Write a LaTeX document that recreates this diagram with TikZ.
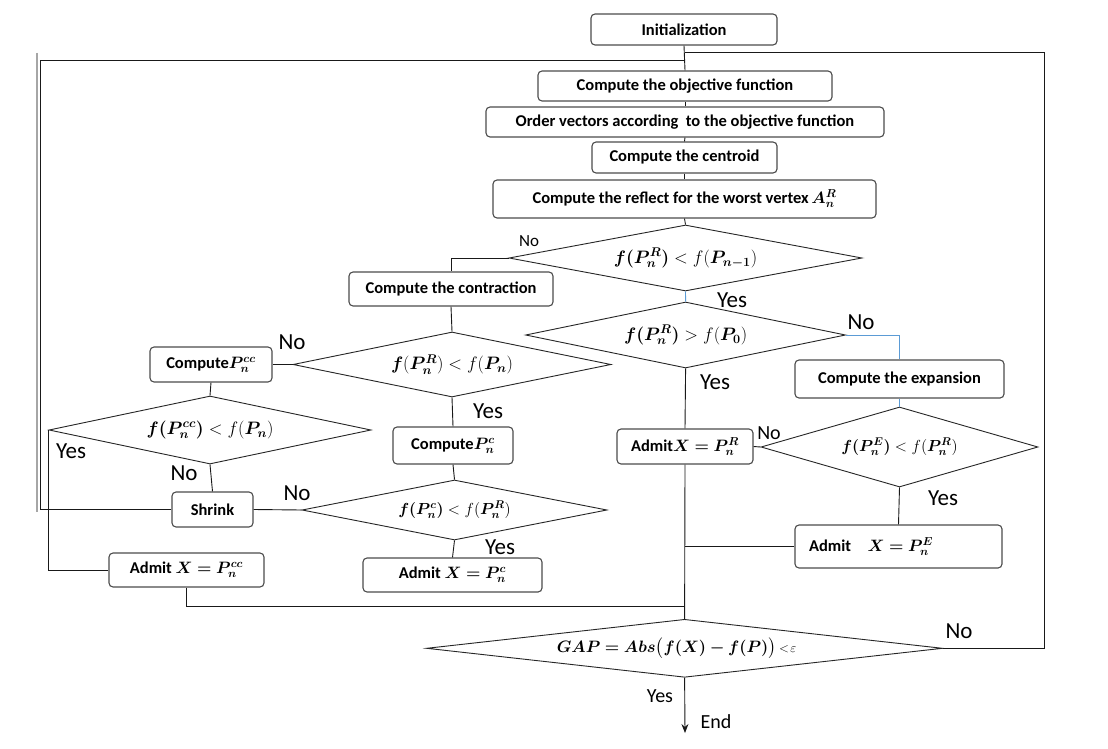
\RequirePackage{fix-cm}
\documentclass[tikz,border=0pt]{standalone}
\usepackage{amsmath}
\usepackage{bm}
\usepackage{fontspec}
\setmainfont{Carlito}
\usetikzlibrary{shapes.geometric,arrows.meta}
\definecolor{lblue}{RGB}{91,155,213}
\begin{document}
\begin{tikzpicture}[x=1pt,y=-1pt,
  box/.style={draw=black!70, line width=1.1pt, rounded corners=4pt, fill=white, inner sep=0pt, align=center, font=\fontsize{16.5}{19}\selectfont\bfseries},
  dia/.style={diamond, draw=black!85, line width=0.9pt, inner sep=0pt, aspect=5, font=\fontsize{18}{21}\selectfont},
  lbl/.style={inner sep=0pt, font=\fontsize{23}{27}\selectfont},
  lblm/.style={inner sep=0pt, font=\fontsize{20}{24}\selectfont},
  lbls/.style={inner sep=0pt, font=\fontsize{17}{20}\selectfont},
  conn/.style={draw=black!90, line width=0.9pt},
  bconn/.style={draw=lblue, line width=0.9pt}]
\fill[white] (0,0) rectangle (1108,749);
\useasboundingbox (0,0) rectangle (1108,749);

% boxes
\node[box, minimum width=186pt, minimum height=31pt] (init) at (684,29.5) {Initialization};
\node[box, minimum width=294pt, minimum height=30pt] (obj) at (685,86) {Compute the objective function};
\node[box, minimum width=398pt, minimum height=30pt] (order) at (685,122) {Order vectors according\ \ to the objective function};
\node[box, minimum width=185pt, minimum height=31pt] (cent) at (684.5,157.5) {Compute the centroid};
\node[box, minimum width=383pt, minimum height=38pt] (refl) at (684.5,199) {Compute the reflect for the worst vertex$\,\bm{A_n^R}$};
\node[box, minimum width=204pt, minimum height=34pt] (contr) at (451,289) {Compute the contraction};
\node[box, minimum width=122pt, minimum height=35pt] (pcc) at (211,364.5) {Compute$\bm{P_n^{cc}}$};
\node[box, minimum width=120pt, minimum height=37pt] (pc) at (453,445.5) {Compute$\bm{P_n^{c}}$};
\node[box, minimum width=136pt, minimum height=35pt] (admR) at (685,446.5) {Admit$\bm{X = P_n^R}$};
\node[box, minimum width=209pt, minimum height=38pt] (exp) at (899.5,379) {Compute the expansion};
\node[box, minimum width=207pt, minimum height=43pt, text width=179pt, align=left] (admE) at (898.5,546.5) {Admit\ \ \ $\bm{X = P_n^E}$};
\node[box, minimum width=155pt, minimum height=34pt] (admcc) at (186.5,570) {Admit $\bm{X = P_n^{cc}}$};
\node[box, minimum width=81pt, minimum height=35pt] (shrink) at (212.5,509.5) {Shrink};
\node[box, minimum width=179pt, minimum height=34pt] (admc) at (452.5,575) {Admit $\bm{X = P_n^{c}}$};

% diamonds
\node[dia, minimum width=353pt, minimum height=66pt] (d1) at (685.5,258) {$\bm{f(P_n^R)} < f(\bm{P_{n-1}})$};
\node[dia, minimum width=320pt, minimum height=66pt] (d2) at (685.6,335) {$\bm{f(P_n^R)} > f(\bm{P_0})$};
\node[dia, minimum width=318pt, minimum height=65pt] (d3) at (452,364.5) {$\bm{f}(\bm{P_n^R}) < f(\bm{P_n})$};
\node[dia, minimum width=277pt, minimum height=80pt, font=\fontsize{16}{19}\selectfont] (d4) at (899.5,447) {$\bm{f(P_n^E)} < f(\bm{P_n^R})$};
\node[dia, minimum width=322pt, minimum height=68pt] (d5) at (210,430) {$\bm{f(P_n^{cc})} < f(\bm{P_n})$};
\node[dia, minimum width=305pt, minimum height=60pt, font=\fontsize{16}{19}\selectfont] (d6) at (454.5,510) {$\bm{f(P_n^c)} < f(\bm{P_n^R})$};
\node[dia, aspect=9, minimum width=516pt, minimum height=58pt, font=\fontsize{16.5}{19}\selectfont] (gap) at (684.6,648.3) {$\bm{GAP = Abs\big(f(X) - f(P)\big)}$\,{\fontsize{13}{15}\selectfont$<\!\varepsilon$}\hspace*{16pt}};

% coordinates
\coordinate (j1) at (685,60);
\coordinate (lcorner) at (40,60);
\coordinate (j4) at (685,52);
\coordinate (rcorner) at (1044,52);
\coordinate (j2) at (685,546.5);
\coordinate (j3) at (685,606);
\coordinate (endpt) at (685,733);

% left gray artefact line
\draw[black!35, line width=1.6pt] (37,53) -- (37,512);

% connectors
\draw[conn] (init.south) -- (obj.north);
\draw[conn] (obj.south) -- (order.north);
\draw[conn] (order.south) -- (cent.north);
\draw[conn] (cent.south) -- (refl.north);
\draw[conn] (refl.south) -- (d1.north);
\draw[bconn] (d1.south) -- (d2.north);
\draw[conn] (d1.west) -| (contr.north);
\draw[conn] (contr.south) -- (d3.north);
\draw[conn] (d3.west) -- (pcc.east);
\draw[conn] (d3.south) -- (pc.north);
\draw[conn] (pcc.south) -- (d5.north);
\draw[conn] (d5.south) -- (shrink.north);
\draw[conn] (d5.west) |- (admcc.west);
\draw[conn] (pc.south) -- (d6.north);
\draw[conn] (d6.west) -- (shrink.east);
\draw[conn] (d6.south) -- (admc.north);
\draw[conn] (shrink.west) -| (lcorner) -- (j1);
\draw[bconn] (d2.east) -| (exp.north);
\draw[bconn] (exp.south) -- (d4.north);
\draw[conn] (d4.west) -- (admR.east);
\draw[conn] (d4.south) -- (admE.north);
\draw[conn] (d2.south) -- (admR.north);
\draw[conn] (admR.south) -- (gap.north);
\draw[conn] (admE.west) -- (j2);
\draw[conn] (admcc.south) |- (j3);
\draw[conn] (gap.east) -| (rcorner) -- (j4);
\draw[conn, -{Stealth[length=9pt,width=7pt]}] (gap.south) -- (endpt);

% labels
\node[lbls] (l1) at (529,241) {No};
\node[lbl] (l2) at (732,300) {Yes};
\node[lbl] (l3) at (292,342) {No};
\node[lbl] (l4) at (488,411) {Yes};
\node[lbl] (l5) at (715,382) {Yes};
\node[lbl] (l6) at (861,322) {No};
\node[lblm] (l7) at (769,433) {No};
\node[lbl] (l8) at (943,498) {Yes};
\node[lbl] (l9) at (71,451) {Yes};
\node[lbl] (l10) at (184,473) {No};
\node[lbl] (l11) at (297,493) {No};
\node[lbl] (l12) at (500,547) {Yes};
\node[lbl] (l13) at (959,631) {No};
\node[lblm] (l14) at (660,696) {Yes};
\node[lblm] (l15) at (716,722) {End};
\end{tikzpicture}
\end{document}
